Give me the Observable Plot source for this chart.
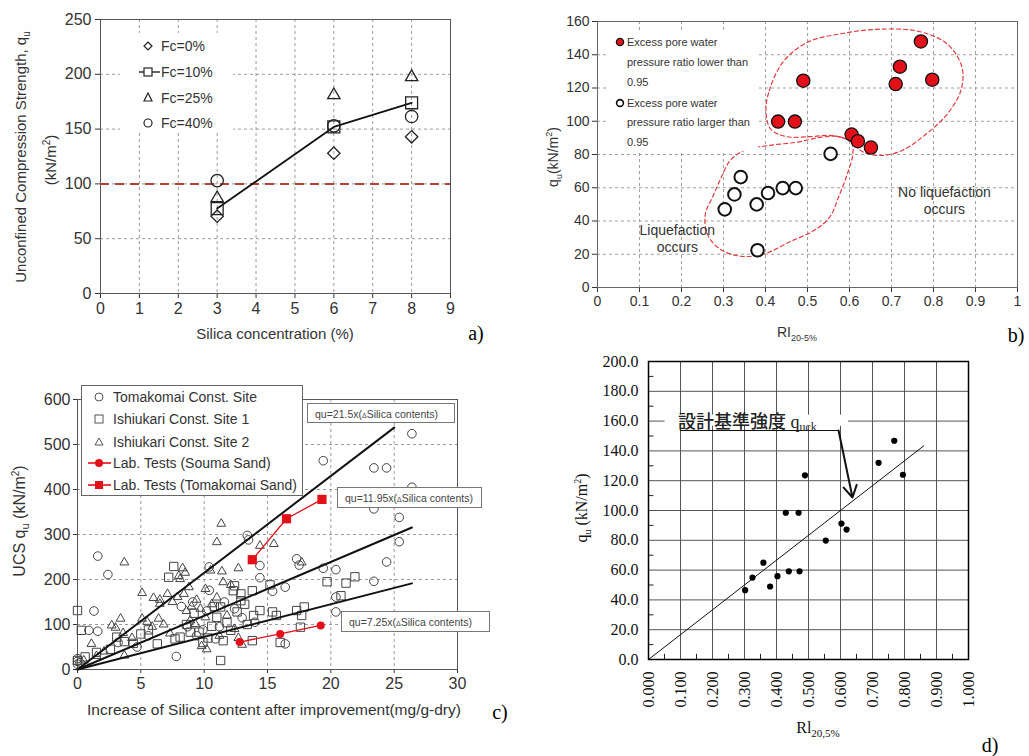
<!DOCTYPE html>
<html>
<head>
<meta charset="utf-8">
<script src="https://cdn.jsdelivr.net/npm/d3@7"></script>
<script src="https://cdn.jsdelivr.net/npm/@observablehq/plot@0.6"></script>
<style>
  html, body { margin: 0; padding: 0; background: #fff; }
  #page { position: relative; width: 1029px; height: 756px; overflow: hidden;
          font-family: "Liberation Sans", Arial, sans-serif; color: #333; }
  .panel { position: absolute; }
  .panel svg { display: block; overflow: visible; }
  .txt { position: absolute; white-space: nowrap; line-height: 1; }
  .box { position: absolute; background: #fff; }
  sub, sup { line-height: 0; }
</style>
</head>
<body>
<div id="page"></div>
<script>
// ---------- (a) strength vs. silica concentration ----------
const silicaPct = [3, 6, 8];
const fc0 = [70.5, 128, 143];
const fc10 = [77.5, 152, 174];
const fc25 = [87, 181, 197.5];
const fc40 = [103, 153, 161.5];
const designStrengthA = 100;
const xTicksA = [0, 1, 2, 3, 4, 5, 6, 7, 8, 9];
const yTicksA = [0, 50, 100, 150, 200, 250];

// ---------- (b) qu vs. RI, liquefaction zones ----------
const riLow = [0.43, 0.47, 0.49, 0.605, 0.62, 0.651, 0.71, 0.72, 0.77, 0.797];
const quLow = [99.8, 99.8, 124.4, 92, 88, 84.2, 122.4, 132.8, 148, 125];
const riHigh = [0.303, 0.326, 0.341, 0.379, 0.381, 0.406, 0.441, 0.472, 0.555];
const quHigh = [47, 56, 66.4, 50, 22.4, 56.8, 59.8, 59.8, 80.4];
const zoneNoLiq = [[0.401,106.4],[0.409,118.4],[0.441,135.4],[0.499,147.4],[0.583,152.8],[0.674,155.4],
  [0.766,154],[0.833,146.4],[0.868,132.4],[0.865,118.4],[0.833,104.4],[0.783,92.4],[0.725,82.4],
  [0.674,79.4],[0.633,81.4],[0.599,88.4],[0.558,91.4],[0.508,90.8],[0.449,90.8],[0.412,95.4]];
const zoneLiq = [[0.257,44.4],[0.261,32.4],[0.29,23.4],[0.341,18.8],[0.399,20.4],[0.457,27.4],[0.516,34.4],
  [0.553,42.4],[0.574,54.4],[0.595,68.4],[0.608,80.4],[0.604,87.4],[0.574,90.8],[0.533,90.4],
  [0.474,87.4],[0.407,85.4],[0.349,82.4],[0.316,76.4],[0.295,66.4],[0.274,54.4]];
const xTicksB = [0, 0.1, 0.2, 0.3, 0.4, 0.5, 0.6, 0.7, 0.8, 0.9, 1];
const yTicksB = [0, 20, 40, 60, 80, 100, 120, 140, 160];

// ---------- (c) UCS vs. increase of silica content ----------
const tomakomaiSite = [[0,12],[0,18],[0,24],[0.2,15],[0.9,87],[1.3,130],[1.6,85],[1.6,252],[2.4,211],[3.2,60],
  [4.7,50],[5.6,75],[7.8,29],[8.2,140],[8.7,95],[9.1,150],[9.4,75],[9.9,88],[10.2,130],[10.4,228],[10.4,176],
  [10.9,68],[11.2,95],[11.6,150],[12.4,135],[13.0,115],[13.4,298],[13.5,288],[14.0,105],[14.4,231],[14.4,204],
  [15.4,174],[16.4,183],[16.4,57],[17.3,246],[17.5,232],[19.4,464],[19.4,225],[20.4,222],[20.4,161],[20.4,128],
  [23.4,448],[24.4,448],[23.4,357],[23.4,196],[24.4,239],[25.4,338],[25.4,284],[26.4,524],[26.4,405]];
const ishikariSite1 = [[0,131],[0.3,87],[0,20],[0.6,28],[1.5,38],[2.6,45],[3.1,72],[3.7,62],[4.4,58],[5.0,79],
  [5.6,88],[6.3,57],[7.2,205],[7.6,229],[7.7,68],[8.1,72],[8.6,100],[8.9,83],[9.2,125],[9.6,83],[9.9,60],
  [10.3,70],[10.6,96],[10.8,140],[11.0,116],[11.3,139],[11.3,20],[11.5,64],[11.8,104],[12.1,87],[12.3,175],
  [12.4,186],[12.6,128],[12.9,168],[12.9,153],[13.2,145],[13.4,100],[13.8,175],[13.8,64],[13.9,120],[14.4,131],
  [15.2,188],[15.4,128],[15.7,120],[16.0,60],[17.3,131],[17.7,120],[17.9,139],[17.6,94],[19.7,195],[20.8,164],
  [21.2,192],[21.9,206]];
const ishikariSite2 = [[0.5,20],[1.1,57],[1.5,30],[2.1,40],[2.7,98],[3.0,93],[3.4,113],[3.6,81],[3.7,31],[3.7,238],
  [4.3,70],[5.1,113],[5.1,170],[5.5,106],[5.9,95],[6.0,159],[6.4,113],[6.5,155],[6.5,146],[6.8,100],[7.1,168],
  [7.3,80],[7.5,150],[7.9,161],[8.0,208],[8.1,201],[8.3,225],[8.4,168],[8.5,215],[8.6,130],[8.8,183],[8.9,109],
  [9.0,140],[9.3,101],[9.4,155],[9.7,135],[9.8,52],[10.1,116],[10.1,179],[10.2,45],[10.5,220],[10.6,145],
  [11.0,283],[11.0,160],[11.35,324],[11.4,218],[11.5,194],[11.2,75],[11.8,120],[12.1,188],[12.4,90],[12.7,225],
  [12.7,70],[13.0,55],[14.4,275],[15.5,279],[17.7,238]];
const soumaSilica = [12.8, 16.0, 19.2];
const soumaUcs = [61, 79, 98];
const tomaSandSilica = [13.8, 16.5, 19.3];
const tomaSandUcs = [244, 335, 378];
const fitSlopes = [21.5, 11.95, 7.25];
const fitEnds = [25, 26.4, 26.4];
const xTicksC = [0, 5, 10, 15, 20, 25, 30];
const yTicksC = [0, 100, 200, 300, 400, 500, 600];

// ---------- (d) qu vs. RI with design strength line ----------
const riD = [0.302, 0.325, 0.359, 0.38, 0.403, 0.429, 0.4385, 0.469, 0.472, 0.489, 0.554, 0.603, 0.619, 0.719, 0.768, 0.795];
const quD = [46.5, 55, 65, 49, 55.9, 98.5, 59.2, 98.5, 59.2, 123.6, 79.8, 91.2, 87.2, 132, 146.8, 124];
const designSlopeD = 166.7;
const designEndD = 0.86;
const xTicksD = [0, 0.1, 0.2, 0.3, 0.4, 0.5, 0.6, 0.7, 0.8, 0.9, 1];
const yTicksD = [0, 20, 40, 60, 80, 100, 120, 140, 160, 180, 200];
const yMinorD = [10, 30, 50, 70, 90, 110, 130, 150, 170, 190];
const xMinorD = [0.05, 0.15, 0.25, 0.35, 0.45, 0.55, 0.65, 0.75, 0.85, 0.95];

// ---------- helpers ----------
const page = document.getElementById("page");
const SANS = "Liberation Sans, Arial, sans-serif";
const SERIF = "Liberation Serif, Times New Roman, serif";
const RED = "#e3101a";

function place(node, left, top) {
  const d = document.createElement("div");
  d.className = "panel";
  d.style.left = left + "px";
  d.style.top = top + "px";
  d.appendChild(node);
  page.appendChild(d);
}
function label(html, x, y, o = {}) {
  const d = document.createElement("div");
  d.className = "txt";
  d.innerHTML = html;
  d.style.left = x + "px";
  d.style.top = y + "px";
  d.style.fontSize = (o.size || 15) + "px";
  if (o.family) d.style.fontFamily = o.family;
  if (o.color) d.style.color = o.color;
  if (o.rotate) d.style.transform = "translate(-50%,-50%) rotate(-90deg)";
  else if (o.anchor === "start") d.style.transform = "translate(0,-50%)";
  else d.style.transform = "translate(-50%,-50%)";
  page.appendChild(d);
  return d;
}
function box(html, left, top, w, h, border) {
  const d = document.createElement("div");
  d.className = "box";
  Object.assign(d.style, { left: left + "px", top: top + "px", width: w + "px", height: h + "px" });
  if (border) d.style.border = border;
  d.innerHTML = html;
  page.appendChild(d);
  return d;
}
const pts = (xs, ys) => xs.map((x, i) => ({ x, y: ys[i] }));
const pairs = (arr) => arr.map(([x, y]) => ({ x, y }));

// ---------- panel (a) ----------
const gridA = { stroke: "#9a9a9a", strokeOpacity: 1, strokeDasharray: "3,3" };
const plotA = Plot.plot({
  width: 480, height: 345,
  marginLeft: 100, marginRight: 30, marginTop: 19, marginBottom: 52,
  style: { fontFamily: SANS, fontSize: "16px", color: "#333", background: "transparent" },
  x: { domain: [0, 9], ticks: xTicksA, tickSize: 5, tickPadding: 4, label: null },
  y: { domain: [0, 250], ticks: yTicksA, tickSize: 5, tickPadding: 4, label: null },
  marks: [
    Plot.gridX(xTicksA.slice(1, -1), gridA),
    Plot.gridY(yTicksA.slice(1, -1), gridA),
    Plot.frame({ stroke: "#555" }),
    Plot.ruleY([designStrengthA], { stroke: "#b5423a", strokeWidth: 2, strokeDasharray: "9,6" }),
    Plot.line(pts(silicaPct, fc10), { x: "x", y: "y", stroke: "#111", strokeWidth: 1.8 }),
    Plot.dot(pts(silicaPct, fc0), { x: "x", y: "y", symbol: "diamond2", r: 5.6, stroke: "#222", strokeWidth: 1.3 }),
    Plot.dot(pts(silicaPct, fc10), { x: "x", y: "y", symbol: "square2", r: 7.6, stroke: "#222", strokeWidth: 1.3 }),
    Plot.dot(pts(silicaPct, fc25), { x: "x", y: "y", symbol: "triangle2", r: 5.9, stroke: "#222", strokeWidth: 1.3 }),
    Plot.dot(pts(silicaPct, fc40), { x: "x", y: "y", symbol: "circle", r: 6.2, stroke: "#222", strokeWidth: 1.3, fill: "none" })
  ]
});
place(plotA, 0, 0);

box(`<svg width="113" height="100" style="font-family:${SANS};font-size:14px;fill:#333">
  <path d="M28,9 L32,13 L28,17 L24,13 Z" fill="none" stroke="#222" stroke-width="1.2"/>
  <text x="41" y="18">Fc=0%</text>
  <line x1="19" y1="39" x2="40" y2="39" stroke="#222" stroke-width="1.4"/>
  <rect x="24" y="35" width="8" height="8" fill="#fff" stroke="#222" stroke-width="1.2"/>
  <text x="41" y="44">Fc=10%</text>
  <path d="M28,60 L32,68 L24,68 Z" fill="none" stroke="#222" stroke-width="1.2"/>
  <text x="41" y="70">Fc=25%</text>
  <circle cx="28" cy="90" r="4" fill="none" stroke="#222" stroke-width="1.2"/>
  <text x="41" y="95">Fc=40%</text>
</svg>`, 120, 33, 113, 100);

label("Unconfined Compression Strength, q<sub style='font-size:10px'>u</sub>", 20, 157, { rotate: true, size: 15 });
label("(kN/m<sup style='font-size:10px'>2</sup>)", 50, 160, { rotate: true, size: 15 });
label("Silica concentration (%)", 275, 333, { size: 15 });
label("a)", 476, 333, { size: 20, family: SERIF, color: "#000" });

// ---------- panel (b) ----------
const gridB = { stroke: "#a0a0a0", strokeOpacity: 1, strokeDasharray: "3,3" };
const zoneStyle = { x: "x", y: "y", curve: "catmull-rom-closed", stroke: "#e03a40", strokeWidth: 1.2, strokeDasharray: "4,3" };
const plotB = Plot.plot({
  width: 509, height: 345,
  marginLeft: 77, marginRight: 12, marginTop: 21, marginBottom: 58,
  style: { fontFamily: SANS, fontSize: "14px", color: "#333", background: "transparent" },
  x: { domain: [0, 1], ticks: xTicksB, tickFormat: d => (d === 0 || d === 1) ? String(d) : d.toFixed(1), tickSize: 5, tickPadding: 4, label: null },
  y: { domain: [0, 160], ticks: yTicksB, tickSize: 5, tickPadding: 3, label: null },
  marks: [
    Plot.gridX(xTicksB.slice(1, -1), gridB),
    Plot.gridY(yTicksB.slice(1, -1), gridB),
    Plot.frame({ stroke: "#666" }),
    Plot.line(pairs(zoneNoLiq), zoneStyle),
    Plot.line(pairs(zoneLiq), zoneStyle),
    Plot.text(["Liquefaction\noccurs"], { x: 0.19, y: 29.8, fontSize: 14, fill: "#333", lineHeight: 1.2 }),
    Plot.text(["No liquefaction\noccurs"], { x: 0.826, y: 52.6, fontSize: 14, fill: "#333", lineHeight: 1.2 }),
    Plot.dot(pts(riHigh, quHigh), { x: "x", y: "y", r: 6.3, stroke: "#111", strokeWidth: 2, fill: "#fff" }),
    Plot.dot(pts(riLow, quLow), { x: "x", y: "y", r: 6.6, stroke: "#111", strokeWidth: 1.3, fill: RED })
  ]
});
place(plotB, 520, 0);

box(`<svg width="150" height="118" style="font-family:${SANS};font-size:11px;fill:#333">
  <circle cx="12" cy="9" r="3.6" fill="${RED}" stroke="#111" stroke-width="1.3"/>
  <text x="19" y="13">Excess pore water</text>
  <text x="19" y="33">pressure ratio lower than</text>
  <text x="19" y="53">0.95</text>
  <circle cx="12" cy="70" r="3.4" fill="#fff" stroke="#111" stroke-width="1.6"/>
  <text x="19" y="74">Excess pore water</text>
  <text x="19" y="93">pressure ratio larger than</text>
  <text x="19" y="113">0.95</text>
</svg>`, 608, 33, 150, 118);

label("q<sub style='font-size:9px'>u</sub>(kN/m<sup style='font-size:9px'>2</sup>)", 553, 157, { rotate: true, size: 14 });
label("RI<sub style='font-size:9px'>20-5%</sub>", 797, 332, { size: 14 });
label("b)", 1016, 335, { size: 20, family: SERIF, color: "#000" });

// ---------- panel (c) ----------
const gridC = { stroke: "#9a9a9a", strokeOpacity: 1, strokeDasharray: "3,3" };
const fitLines = fitSlopes.flatMap((k, i) => [{ x: 0, y: 0, k }, { x: fitEnds[i], y: k * fitEnds[i], k }]);
const openC = { x: "x", y: "y", stroke: "#444", strokeWidth: 1 };
const plotC = Plot.plot({
  width: 520, height: 340,
  marginLeft: 77, marginRight: 63, marginTop: 19, marginBottom: 51,
  style: { fontFamily: SANS, fontSize: "16px", color: "#333", background: "transparent" },
  x: { domain: [0, 30], ticks: xTicksC, tickSize: 4, tickPadding: 4, label: null },
  y: { domain: [0, 600], ticks: yTicksC, tickSize: 4, tickPadding: 3, label: null },
  marks: [
    Plot.gridX(xTicksC.slice(1, -1), gridC),
    Plot.gridY(yTicksC.slice(1, -1), gridC),
    Plot.frame({ stroke: "#555" }),
    Plot.dot(pairs(tomakomaiSite), { ...openC, symbol: "circle", r: 4.3, fill: "none" }),
    Plot.dot(pairs(ishikariSite1), { ...openC, symbol: "square2", r: 5.3 }),
    Plot.dot(pairs(ishikariSite2), { ...openC, symbol: "triangle2", r: 4.2 }),
    Plot.line(fitLines, { x: "x", y: "y", z: "k", stroke: "#111", strokeWidth: 2 }),
    Plot.line(pts(soumaSilica, soumaUcs), { x: "x", y: "y", stroke: RED, strokeWidth: 1.3 }),
    Plot.dot(pts(soumaSilica, soumaUcs), { x: "x", y: "y", r: 4, fill: RED }),
    Plot.line(pts(tomaSandSilica, tomaSandUcs), { x: "x", y: "y", stroke: RED, strokeWidth: 1.3 }),
    Plot.dot(pts(tomaSandSilica, tomaSandUcs), { x: "x", y: "y", symbol: "square", r: 5.2, fill: RED })
  ]
});
place(plotC, 0, 380);

box(`<svg width="220" height="109" style="font-family:${SANS};font-size:14px;fill:#333">
  <circle cx="17" cy="11" r="4" fill="none" stroke="#555" stroke-width="1"/>
  <text x="31" y="16">Tomakomai Const. Site</text>
  <rect x="13" y="29" width="8" height="8" fill="none" stroke="#555" stroke-width="1"/>
  <text x="31" y="38">Ishiukari Const. Site 1</text>
  <path d="M17,52 L21,59 L13,59 Z" fill="none" stroke="#555" stroke-width="1"/>
  <text x="31" y="61">Ishiukari Const. Site 2</text>
  <line x1="6" y1="77" x2="29" y2="77" stroke="${RED}" stroke-width="1.6"/>
  <circle cx="17" cy="77" r="4" fill="${RED}"/>
  <text x="31" y="82">Lab. Tests (Souma Sand)</text>
  <line x1="6" y1="99" x2="29" y2="99" stroke="${RED}" stroke-width="1.6"/>
  <rect x="13" y="95" width="8" height="8" fill="${RED}"/>
  <text x="31" y="104" textLength="184" lengthAdjust="spacingAndGlyphs">Lab. Tests (Tomakomai Sand)</text>
</svg>`, 81, 385, 220, 109, "1px solid #666");

const eqHtml = k => `<div style="font-size:10.5px;color:#444;padding:4px 0 0 7px">qu=${k}x(<span style="font-size:7px">Δ</span>Silica contents)</div>`;
box(eqHtml(fitSlopes[0]), 307, 403, 146, 18, "1px solid #777");
box(eqHtml(fitSlopes[1]), 337, 487, 143, 19, "1px solid #777");
box(eqHtml(fitSlopes[2]), 341, 611, 147, 19, "1px solid #777");

label("UCS q<sub style='font-size:11px'>u</sub> (kN/m<sup style='font-size:10px'>2</sup>)", 20, 521, { rotate: true, size: 16 });
label("Increase of Silica content after improvement(mg/g-dry)", 274, 710, { size: 15.5 });
label("c)", 500, 712, { size: 20, family: SERIF, color: "#000" });

// ---------- panel (d) ----------
const gridD = { stroke: "#555", strokeOpacity: 1, strokeWidth: 1 };
const plotD = Plot.plot({
  width: 439, height: 406,
  marginLeft: 58, marginRight: 61, marginTop: 11, marginBottom: 97,
  style: { fontFamily: SERIF, fontSize: "16px", color: "#111", background: "transparent" },
  x: { domain: [0, 1], ticks: xTicksD, tickFormat: d3.format(".3f"), tickRotate: -90, tickSize: 0, tickPadding: 12, label: null },
  y: { domain: [0, 200], ticks: yTicksD, tickFormat: d3.format(".1f"), tickSize: 0, tickPadding: 10, label: null },
  marks: [
    Plot.gridX(xTicksD.slice(1, -1), gridD),
    Plot.gridY(yTicksD.slice(1, -1), gridD),
    Plot.ruleY(yMinorD, { x1: 0, x2: 0.017, stroke: "#222" }),
    Plot.ruleX(xMinorD, { y1: 0, y2: 3.5, stroke: "#222" }),
    Plot.frame({ stroke: "#000", strokeWidth: 1.5 }),
    Plot.line([{ x: 0, y: 0 }, { x: designEndD, y: designSlopeD * designEndD }], { x: "x", y: "y", stroke: "#111", strokeWidth: 1 }),
    Plot.rect([0], { x1: 0.052, x2: 0.625, y1: 156.5, y2: 164, fill: "#fff" }),
    Plot.line([{ x: 0.1, y: 153.7 }, { x: 0.594, y: 153.7 }], { x: "x", y: "y", stroke: "#111", strokeWidth: 1.2 }),
    Plot.arrow([0], { x1: 0.594, y1: 153.7, x2: 0.6375, y2: 108.7, stroke: "#111", strokeWidth: 2, headLength: 10 }),
    Plot.dot(pts(riD, quD), { x: "x", y: "y", r: 3.1, fill: "#000" })
  ]
});
place(plotD, 590, 350);

label("<span style=\"font-family:'Noto Sans CJK JP';font-weight:500\">設計基準強度</span> q<span style='font-size:12px;position:relative;top:3px'>uck</span>",
  678, 421, { anchor: "start", size: 18, family: SERIF, color: "#222" });
label("q<sub style='font-size:10px'>u</sub> (kN/m<sup style='font-size:10px'>2</sup>)", 582, 508, { rotate: true, size: 16, family: SERIF, color: "#111" });
label("Rl<sub style='font-size:11px'>20,5%</sub>", 818, 728, { size: 16, family: SERIF, color: "#111" });
label("d)", 990, 745, { size: 20, family: SERIF, color: "#000" });
</script>
</body>
</html>
